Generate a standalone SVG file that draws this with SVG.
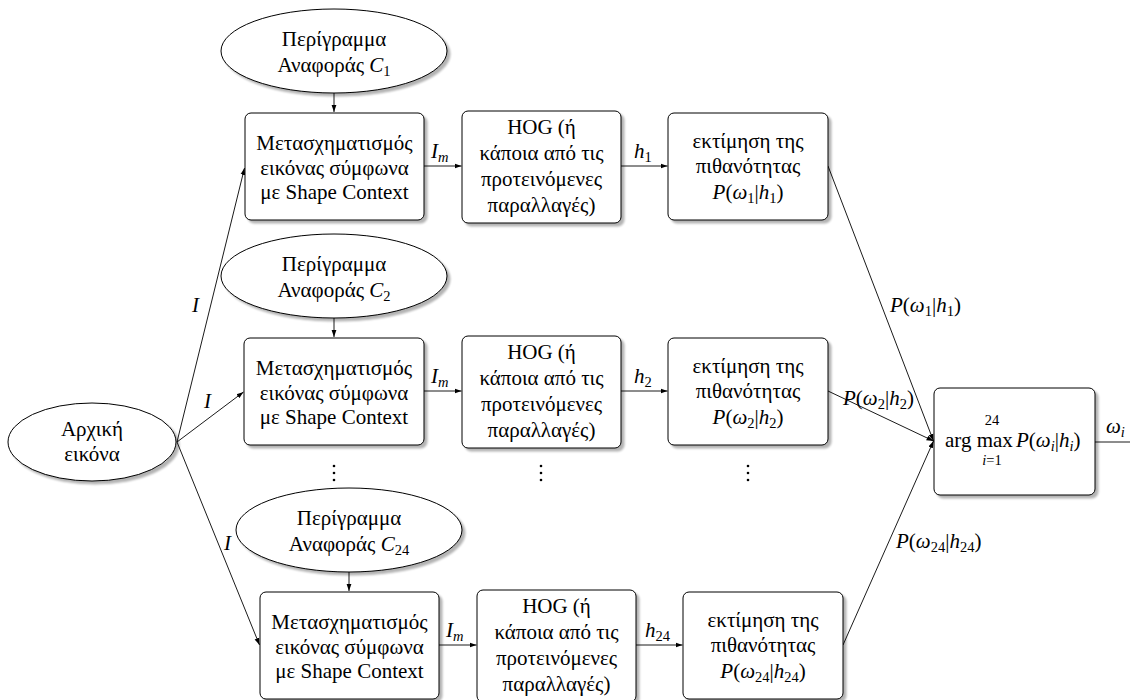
<svg xmlns="http://www.w3.org/2000/svg" width="1130" height="700" viewBox="0 0 1130 700">
<style>
text{font-family:"Liberation Serif","Times New Roman",serif}
.t{font-size:21px;fill:#000;text-anchor:middle}
.l{font-size:21px;fill:#000;text-anchor:start}
.i{font-style:italic}
.s{font-size:14.5px}
.shape{fill:#fff;stroke:#000;stroke-width:1;filter:url(#sh)}
.e{fill:none;stroke:#000;stroke-width:0.9}
</style>
<defs>
<filter id="sh" x="-10%" y="-10%" width="130%" height="130%">
<feGaussianBlur in="SourceAlpha" stdDeviation="1"/>
<feOffset dx="2.5" dy="2.5" result="o"/>
<feComponentTransfer><feFuncA type="linear" slope="0.3"/></feComponentTransfer>
<feMerge><feMergeNode/><feMergeNode in="SourceGraphic"/></feMerge>
</filter>
<marker id="ar" markerUnits="userSpaceOnUse" markerWidth="8" markerHeight="6" refX="7" refY="3" orient="auto">
<path d="M0,0.6 L7,3 L0,5.4 Z" fill="#000"/>
</marker>
</defs>
<rect width="1130" height="700" fill="#fff"/>

<g id="edges" class="e">
<line x1="334" y1="93" x2="334" y2="112" marker-end="url(#ar)"/>
<line x1="334" y1="318" x2="334" y2="337" marker-end="url(#ar)"/>
<line x1="349" y1="572" x2="349" y2="591" marker-end="url(#ar)"/>
<line x1="177" y1="442" x2="244.5" y2="168" marker-end="url(#ar)"/>
<line x1="177" y1="442" x2="243.5" y2="392" marker-end="url(#ar)"/>
<line x1="177" y1="442" x2="259.5" y2="645" marker-end="url(#ar)"/>
<line x1="424" y1="166" x2="461.5" y2="166" marker-end="url(#ar)"/>
<line x1="621" y1="166" x2="667.5" y2="166" marker-end="url(#ar)"/>
<line x1="424" y1="391" x2="461.5" y2="391" marker-end="url(#ar)"/>
<line x1="621" y1="391" x2="667.5" y2="391" marker-end="url(#ar)"/>
<line x1="439" y1="645" x2="476.5" y2="645" marker-end="url(#ar)"/>
<line x1="636" y1="645" x2="682.5" y2="645" marker-end="url(#ar)"/>
<line x1="828" y1="166" x2="933.5" y2="441" marker-end="url(#ar)"/>
<line x1="828" y1="391" x2="933.5" y2="441" marker-end="url(#ar)"/>
<line x1="843" y1="645" x2="933.5" y2="441" marker-end="url(#ar)"/>
<line x1="1095" y1="442" x2="1130" y2="442"/>
</g>

<g id="edge-labels">
<text class="l i" x="192" y="312">I</text>
<text class="l i" x="204" y="408">I</text>
<text class="l i" x="224" y="550">I</text>
<text class="l" x="431" y="158"><tspan class="i">I</tspan><tspan class="s i" dy="4">m</tspan></text>
<text class="l" x="431" y="383"><tspan class="i">I</tspan><tspan class="s i" dy="4">m</tspan></text>
<text class="l" x="446" y="637"><tspan class="i">I</tspan><tspan class="s i" dy="4">m</tspan></text>
<text class="l" x="634" y="158"><tspan class="i">h</tspan><tspan class="s" dy="4">1</tspan></text>
<text class="l" x="634" y="383"><tspan class="i">h</tspan><tspan class="s" dy="4">2</tspan></text>
<text class="l" x="645" y="637"><tspan class="i">h</tspan><tspan class="s" dy="4">24</tspan></text>
<text class="l" x="890" y="312"><tspan class="i">P</tspan>(<tspan class="i">ω</tspan><tspan class="s" dy="4">1</tspan><tspan dy="-4">|</tspan><tspan class="i">h</tspan><tspan class="s" dy="4">1</tspan><tspan dy="-4">)</tspan></text>
<text class="l" x="843" y="405"><tspan class="i">P</tspan>(<tspan class="i">ω</tspan><tspan class="s" dy="4">2</tspan><tspan dy="-4">|</tspan><tspan class="i">h</tspan><tspan class="s" dy="4">2</tspan><tspan dy="-4">)</tspan></text>
<text class="l" x="896" y="548"><tspan class="i">P</tspan>(<tspan class="i">ω</tspan><tspan class="s" dy="4">24</tspan><tspan dy="-4">|</tspan><tspan class="i">h</tspan><tspan class="s" dy="4">24</tspan><tspan dy="-4">)</tspan></text>
<text class="l" x="1106" y="433"><tspan class="i">ω</tspan><tspan class="s i" dy="4">i</tspan></text>
</g>

<g id="start">
<ellipse class="shape" cx="92" cy="442" rx="84" ry="39"/>
<text class="t" x="92" y="436">Αρχική</text>
<text class="t" x="92" y="461">εικόνα</text>
</g>

<g id="ref1">
<ellipse class="shape" cx="334" cy="51" rx="113" ry="42"/>
<text class="t" x="334" y="46">Περίγραμμα</text>
<text class="t" x="334" y="72">Αναφοράς <tspan class="i">C</tspan><tspan class="s" dy="4">1</tspan></text>
</g>
<g id="sc1">
<rect class="shape" x="245" y="113" width="179" height="107" rx="6"/>
<text class="t" x="334.5" y="150">Μετασχηματισμός</text>
<text class="t" x="334.5" y="175">εικόνας σύμφωνα</text>
<text class="t" x="334.5" y="199">με Shape Context</text>
</g>
<g id="hog1">
<rect class="shape" x="462" y="111" width="159" height="112" rx="6"/>
<text class="t" x="541.5" y="134">HOG (ή</text>
<text class="t" x="541.5" y="160">κάποια από τις</text>
<text class="t" x="541.5" y="186">προτεινόμενες</text>
<text class="t" x="541.5" y="212">παραλλαγές)</text>
</g>
<g id="prob1">
<rect class="shape" x="668" y="113" width="160" height="107" rx="6"/>
<text class="t" x="748" y="148">εκτίμηση της</text>
<text class="t" x="748" y="173">πιθανότητας</text>
<text class="t" x="748" y="199"><tspan class="i">P</tspan>(<tspan class="i">ω</tspan><tspan class="s" dy="4">1</tspan><tspan dy="-4">|</tspan><tspan class="i">h</tspan><tspan class="s" dy="4">1</tspan><tspan dy="-4">)</tspan></text>
</g>

<g id="ref2">
<ellipse class="shape" cx="334" cy="276" rx="113" ry="42"/>
<text class="t" x="334" y="271">Περίγραμμα</text>
<text class="t" x="334" y="297">Αναφοράς <tspan class="i">C</tspan><tspan class="s" dy="4">2</tspan></text>
</g>
<g id="sc2">
<rect class="shape" x="244" y="338" width="180" height="107" rx="6"/>
<text class="t" x="334" y="375">Μετασχηματισμός</text>
<text class="t" x="334" y="400">εικόνας σύμφωνα</text>
<text class="t" x="334" y="424">με Shape Context</text>
</g>
<g id="hog2">
<rect class="shape" x="462" y="336" width="159" height="112" rx="6"/>
<text class="t" x="541.5" y="359">HOG (ή</text>
<text class="t" x="541.5" y="385">κάποια από τις</text>
<text class="t" x="541.5" y="411">προτεινόμενες</text>
<text class="t" x="541.5" y="437">παραλλαγές)</text>
</g>
<g id="prob2">
<rect class="shape" x="668" y="338" width="160" height="107" rx="6"/>
<text class="t" x="748" y="373">εκτίμηση της</text>
<text class="t" x="748" y="398">πιθανότητας</text>
<text class="t" x="748" y="424"><tspan class="i">P</tspan>(<tspan class="i">ω</tspan><tspan class="s" dy="4">2</tspan><tspan dy="-4">|</tspan><tspan class="i">h</tspan><tspan class="s" dy="4">2</tspan><tspan dy="-4">)</tspan></text>
</g>

<g id="dots">
<circle cx="334" cy="466" r="1.3"/><circle cx="334" cy="473" r="1.3"/><circle cx="334" cy="480" r="1.3"/>
<circle cx="541" cy="466" r="1.3"/><circle cx="541" cy="473" r="1.3"/><circle cx="541" cy="480" r="1.3"/>
<circle cx="748" cy="466" r="1.3"/><circle cx="748" cy="473" r="1.3"/><circle cx="748" cy="480" r="1.3"/>
</g>

<g id="ref24">
<ellipse class="shape" cx="349" cy="530" rx="113" ry="42"/>
<text class="t" x="349" y="525">Περίγραμμα</text>
<text class="t" x="349" y="551">Αναφοράς <tspan class="i">C</tspan><tspan class="s" dy="4">24</tspan></text>
</g>
<g id="sc24">
<rect class="shape" x="260" y="592" width="179" height="107" rx="6"/>
<text class="t" x="349.5" y="629">Μετασχηματισμός</text>
<text class="t" x="349.5" y="654">εικόνας σύμφωνα</text>
<text class="t" x="349.5" y="678">με Shape Context</text>
</g>
<g id="hog24">
<rect class="shape" x="477" y="590" width="159" height="112" rx="6"/>
<text class="t" x="556.5" y="613">HOG (ή</text>
<text class="t" x="556.5" y="639">κάποια από τις</text>
<text class="t" x="556.5" y="665">προτεινόμενες</text>
<text class="t" x="556.5" y="691">παραλλαγές)</text>
</g>
<g id="prob24">
<rect class="shape" x="683" y="592" width="160" height="107" rx="6"/>
<text class="t" x="763" y="627">εκτίμηση της</text>
<text class="t" x="763" y="652">πιθανότητας</text>
<text class="t" x="763" y="678"><tspan class="i">P</tspan>(<tspan class="i">ω</tspan><tspan class="s" dy="4">24</tspan><tspan dy="-4">|</tspan><tspan class="i">h</tspan><tspan class="s" dy="4">24</tspan><tspan dy="-4">)</tspan></text>
</g>

<g id="argmax">
<rect class="shape" x="934" y="388" width="161" height="107" rx="6"/>
<text class="l" x="945" y="447">arg max</text>
<text class="t s" x="992" y="425">24</text>
<text class="t s" x="992" y="465"><tspan class="i">i</tspan>=1</text>
<text class="l" x="1016" y="447"><tspan class="i">P</tspan>(<tspan class="i">ω</tspan><tspan class="s i" dy="4">i</tspan><tspan dy="-4">|</tspan><tspan class="i">h</tspan><tspan class="s i" dy="4">i</tspan><tspan dy="-4">)</tspan></text>
</g>
</svg>
